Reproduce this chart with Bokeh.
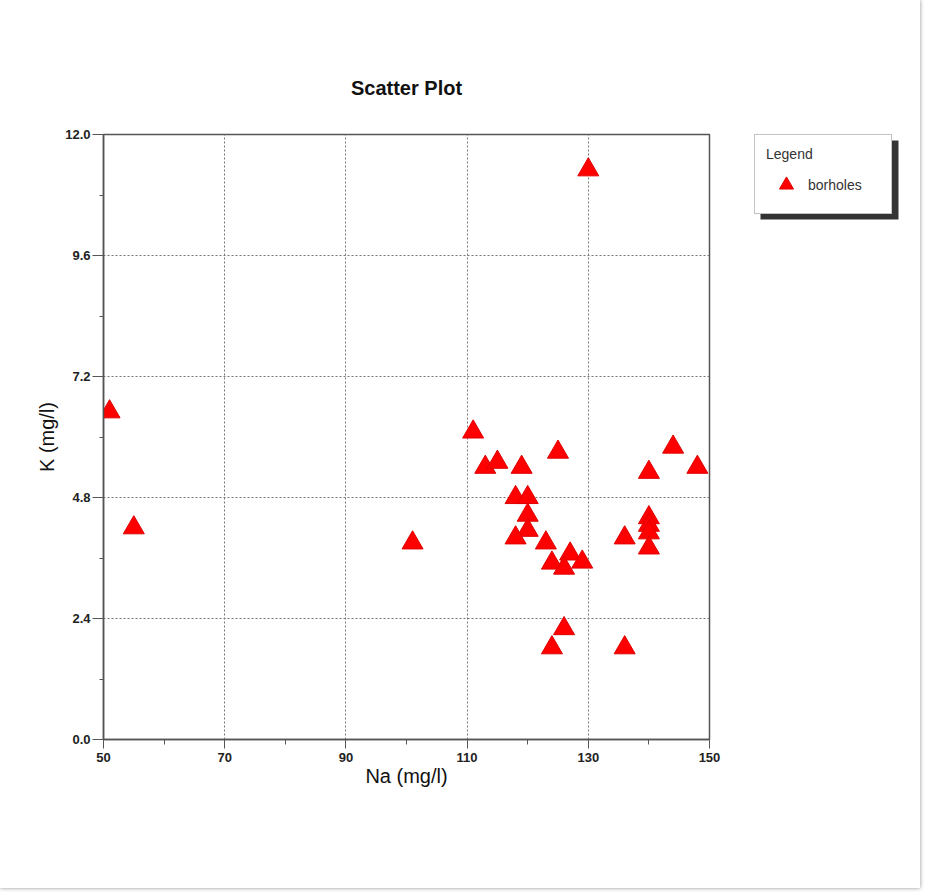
from bokeh.plotting import figure
from bokeh.layouts import row
from bokeh.models import (ColumnDataSource, FixedTicker, Legend, LegendItem,
                          Range1d, CustomJSTickFormatter)
from bokeh.embed import file_html
from bokeh.resources import INLINE

# ---- data ----
na = [51, 55, 101, 130,
      111, 113, 115, 119, 125,
      140, 144, 148,
      118, 120, 120, 120, 118, 123, 124, 127, 126, 129,
      136, 140, 140, 140, 140,
      126, 124, 136]
k = [6.5, 4.2, 3.9, 11.3,
     6.1, 5.4, 5.5, 5.4, 5.7,
     5.3, 5.8, 5.4,
     4.8, 4.8, 4.45, 4.15, 4.0, 3.9, 3.5, 3.68, 3.4, 3.52,
     4.0, 4.4, 4.25, 4.1, 3.8,
     2.2, 1.82, 1.82]

x_ticks = [50, 70, 90, 110, 130, 150]
x_minor = [60, 80, 100, 120, 140]
y_ticks = [0.0, 2.4, 4.8, 7.2, 9.6, 12.0]
y_minor = [1.2, 3.6, 6.0, 8.4, 10.8]

title_text = "Scatter Plot"
x_label = "Na (mg/l)"
y_label = "K (mg/l)"
series_name = "borholes"
legend_title = "Legend"

FONT = "Liberation Sans"
RED = "#ff0000"
RED_EDGE = "#e00000"

FW, FH = 606, 605
B_TOP, B_BOTTOM = 134, 149

p = figure(output_backend="svg", toolbar_location=None,
           frame_width=FW, frame_height=FH,
           min_border_left=103, min_border_right=45,
           min_border_top=B_TOP, min_border_bottom=B_BOTTOM,
           x_range=Range1d(50, 150), y_range=Range1d(0, 12),
           title=title_text)
p.background_fill_color = "white"
p.border_fill_color = "white"
p.outline_line_color = "#555555"
p.outline_line_width = 1.5

p.title.text_font = FONT
p.title.text_font_size = "20px"
p.title.text_font_style = "bold"
p.title.text_color = "#111111"
p.title.align = "center"
p.title.standoff = 72

for ax in (p.xaxis[0], p.yaxis[0]):
    ax.axis_line_color = "#555555"
    ax.axis_line_width = 1.5
    ax.major_tick_line_color = "#555555"
    ax.minor_tick_line_color = "#555555"
    ax.major_tick_in = 0
    ax.minor_tick_in = 0
    ax.major_label_text_font = FONT
    ax.major_label_text_font_size = "13px"
    ax.major_label_text_font_style = "bold"
    ax.major_label_text_color = "#222222"
    ax.axis_label_text_font = FONT
    ax.axis_label_text_font_style = "normal"
    ax.axis_label_text_font_size = "20px"
    ax.axis_label_text_color = "#111111"

p.xaxis.ticker = FixedTicker(ticks=x_ticks, minor_ticks=x_minor)
p.yaxis.ticker = FixedTicker(ticks=y_ticks, minor_ticks=y_minor)
p.yaxis.formatter = CustomJSTickFormatter(code="return tick.toFixed(1);")
p.xaxis.major_tick_out = 9
p.xaxis.minor_tick_out = 5
p.xaxis.major_label_standoff = 4
p.yaxis.major_tick_out = 11
p.yaxis.minor_tick_out = 4
p.yaxis.major_label_standoff = 2
p.xaxis.axis_label = x_label
p.yaxis.axis_label = y_label
p.xaxis.axis_label_standoff = 0
p.yaxis.axis_label_standoff = 4

p.xgrid.ticker = FixedTicker(ticks=x_ticks[1:-1])
p.ygrid.ticker = FixedTicker(ticks=y_ticks[1:-1])
for g in (p.xgrid[0], p.ygrid[0]):
    g.grid_line_color = "#777777"
    g.grid_line_dash = "2 2"
    g.grid_line_width = 1

src = ColumnDataSource(data=dict(na=na, k=k))
p.scatter("na", "k", source=src, marker="triangle", size=21,
          fill_color=RED, line_color=RED_EDGE, line_width=1)

# ---- legend panel (second figure, to the right) ----
LW = 166
q = figure(output_backend="svg", toolbar_location=None,
           frame_width=LW, frame_height=FH,
           min_border_left=0, min_border_right=0,
           min_border_top=B_TOP, min_border_bottom=B_BOTTOM,
           x_axis_type=None, y_axis_type=None,
           x_range=Range1d(0, LW), y_range=Range1d(FH, 0))
q.grid.visible = False
q.outline_line_color = None
q.background_fill_color = "white"
q.border_fill_color = "white"

# legend drop shadow (decoration, pixel units of this panel)
q.quad(left=[6], right=[144], top=[6], bottom=[85],
       fill_color="#333333", line_color=None)

# off-screen sample glyph so the legend can draw its symbol
leg_r = q.scatter(x=[-1000], y=[-1000], marker="triangle", size=21,
                  fill_color=RED, line_color=RED_EDGE, line_width=1)

legend = Legend(items=[LegendItem(label=series_name, renderers=[leg_r])],
                location="top_left", margin=0, title=legend_title,
                title_text_font=FONT, title_text_font_size="14px",
                title_text_font_style="normal", title_text_color="#333333",
                title_standoff=5,
                label_text_font=FONT, label_text_font_size="14px",
                label_text_color="#333333",
                padding=11, spacing=0, glyph_width=40, glyph_height=35,
                label_height=26, label_width=72, label_standoff=2,
                border_line_color="#888888", border_line_width=1,
                background_fill_color="white", background_fill_alpha=1.0)
q.add_layout(legend, "center")

layout = row(p, q, spacing=0)
layout.styles = {"box-shadow": "0px 0px 4px rgba(0,0,0,0.45)"}

open("out.html", "w").write(file_html(layout, INLINE))
